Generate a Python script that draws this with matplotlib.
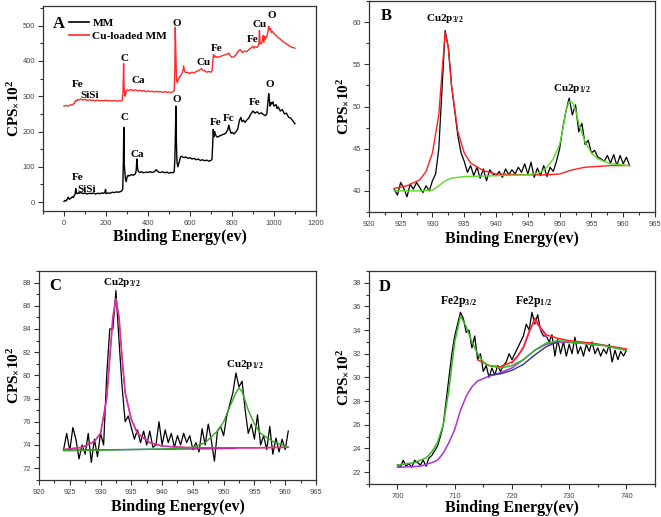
import numpy as np
import matplotlib
matplotlib.use("Agg")
import matplotlib.pyplot as plt
from matplotlib.ticker import MultipleLocator
from matplotlib.lines import Line2D

plt.rcParams['font.family'] = ['Liberation Sans', 'DejaVu Sans']
plt.rcParams['mathtext.fontset'] = 'custom'
plt.rcParams['mathtext.rm'] = 'Liberation Serif:bold'
plt.rcParams['mathtext.bf'] = 'Liberation Serif:bold'
plt.rcParams['mathtext.it'] = 'Liberation Serif:bold'

SERIF = 'Liberation Serif'

# ==========================================
# Panel A : survey spectra
# ==========================================
mm_energy = [0, 5, 10, 15, 20, 25, 30, 35, 40, 45, 50, 53, 56, 59, 63, 70, 75, 80, 90, 100,
             110, 120, 130, 140, 150, 160, 170, 180, 190, 195, 198, 201, 210, 220, 230, 240, 250, 260, 270, 276,
             280, 283, 285, 287, 290, 293, 297, 300, 305, 310, 320, 330, 340, 344, 347, 350, 353, 360, 370, 380,
             390, 400, 410, 420, 430, 440, 445, 450, 460, 470, 480, 490, 500, 510, 520, 525, 528, 531, 533, 535,
             538, 542, 548, 555, 560, 570, 580, 590, 600, 610, 620, 630, 640, 650, 660, 670, 680, 690, 700, 705,
             708, 711, 714, 718, 722, 730, 740, 750, 760, 770, 780, 785, 790, 795, 800, 810, 820, 828, 835, 842,
             848, 855, 862, 870, 880, 890, 900, 910, 920, 930, 940, 950, 960, 966, 970, 975, 978, 982, 986, 990,
             995, 1000, 1010, 1015, 1020, 1030, 1040, 1050, 1060, 1070, 1080, 1090, 1100]
mm_cps = [2, 5, 3, 8, 14, 8, 10, 12, 15, 13, 20, 22, 38, 26, 24, 27, 25, 28, 24, 26,
          23, 25, 24, 26, 23, 25, 24, 26, 25, 28, 36, 24, 26, 25, 28, 27, 29, 28, 30, 32,
          38, 120, 212, 110, 85, 65, 58, 70, 76, 74, 78, 76, 80, 90, 122, 100, 88, 84, 86, 83,
          85, 84, 86, 84, 86, 92, 88, 85, 84, 86, 83, 85, 82, 84, 83, 86, 120, 200, 272, 180,
          115, 100, 112, 128, 130, 126, 128, 124, 126, 122, 124, 120, 122, 118, 120, 117, 119, 116, 118, 122,
          160, 206, 185, 200, 190, 184, 187, 190, 192, 195, 205, 218, 205, 195, 198, 193, 200, 208, 230, 240,
          228, 232, 226, 232, 238, 250, 258, 252, 256, 250, 253, 248, 245, 250, 275, 307, 290, 272, 282, 278,
          284, 272, 276, 265, 270, 258, 262, 250, 252, 240, 238, 230, 222]

cu_energy = [0, 10, 20, 30, 40, 50, 55, 60, 65, 70, 80, 90, 100, 110, 120, 130, 140, 150, 160, 170,
             180, 190, 200, 210, 220, 230, 240, 250, 260, 270, 278, 281, 284, 286, 289, 292, 296, 300, 310, 320,
             330, 340, 350, 360, 370, 380, 390, 400, 410, 420, 430, 440, 450, 460, 470, 480, 490, 500, 510, 520,
             525, 528, 530, 533, 536, 540, 545, 552, 560, 566, 570, 574, 580, 590, 600, 610, 620, 630, 640, 650,
             655, 660, 670, 680, 690, 700, 705, 709, 712, 716, 720, 730, 740, 750, 760, 770, 780, 786, 790, 800,
             810, 820, 830, 840, 850, 860, 870, 880, 890, 900, 905, 910, 920, 928, 931, 934, 938, 942, 946, 949,
             952, 956, 960, 965, 970, 975, 979, 984, 988, 993, 1000, 1010, 1020, 1030, 1040, 1050, 1060, 1070, 1080, 1090,
             1100]
cu_cps = [272, 274, 272, 275, 276, 280, 288, 286, 291, 289, 292, 289, 291, 288, 290, 288, 289, 287, 289, 287,
          288, 287, 289, 286, 288, 286, 288, 286, 287, 286, 288, 310, 392, 330, 305, 300, 312, 318, 316, 319,
          316, 318, 315, 317, 314, 316, 313, 315, 313, 314, 312, 314, 312, 313, 311, 313, 311, 312, 310, 313,
          316, 380, 495, 420, 345, 338, 350, 355, 362, 370, 386, 372, 366, 368, 364, 368, 366, 370, 372, 376,
          378, 374, 372, 368, 370, 368, 372, 400, 418, 410, 414, 410, 412, 414, 416, 418, 420, 422, 416, 410,
          412, 418, 428, 432, 424, 428, 426, 432, 436, 442, 436, 440, 438, 446, 486, 450, 448, 452, 462, 472,
          452, 470, 462, 468, 478, 498, 488, 492, 480, 484, 478, 472, 466, 462, 456, 452, 448, 444, 440, 438,
          436]

a_labels_red = [("Fe", 67, 332), ("SiSi", 124, 301), ("C", 290, 406), ("Ca", 352, 344), ("O", 538, 506),
                ("Cu", 667, 395), ("Fe", 729, 435), ("Fe", 900, 460), ("Cu", 933, 503), ("O", 990, 528)]
a_labels_black = [("Fe", 67, 71), ("SiSi", 110, 37), ("C", 286, 241), ("Ca", 348, 134), ("O", 538, 292),
                  ("Fe", 724, 225), ("Fc", 786, 236), ("Fe", 910, 281), ("O", 981, 332)]

# ==========================================
# Panel B : Cu 2p of Cu-loaded MM
# ==========================================
b_cps = [40.2, 39.5, 41.0, 40.3, 39.3, 40.8, 40.2, 41.0, 40.4, 39.8, 40.6, 40.0, 41.2, 42.0, 45.0,
         52.0, 59.0, 57.0, 52.5, 49.5, 46.5, 44.5, 43.5, 42.2, 43.0, 41.8, 42.8, 41.5, 42.6, 41.2,
         42.5, 42.0, 41.8, 42.3, 41.6, 42.6, 41.9, 42.5, 42.0, 42.8, 42.2, 43.2, 42.0, 43.4, 41.6,
         42.7, 41.8, 43.0, 41.7, 42.8, 42.3, 43.5, 45.0, 47.5, 49.5, 51.0, 49.0, 50.2, 47.0, 48.0,
         45.5, 46.0, 44.5, 44.8, 44.0, 43.8, 43.5, 44.2, 43.3, 44.3, 43.0, 44.2, 43.2, 44.0, 43.0]
b_red_e = [924, 926, 928, 929, 930, 931, 931.5, 932, 932.5, 933, 934, 935, 936, 938, 940, 945, 948,
           950, 952, 954, 956, 958, 961]
b_red = [40.3, 40.6, 41.3, 42.3, 44.5, 49.0, 54.0, 58.8, 57.0, 52.5, 47.0, 44.5, 43.3, 42.4, 42.0,
         41.9, 41.9, 42.0, 42.5, 42.8, 42.9, 43.0, 43.0]
b_green_e = [924, 928, 930, 931, 932, 933, 935, 940, 945, 947, 948, 949, 950, 950.5, 951, 951.5, 952,
             952.5, 953, 954, 955, 956, 958, 961]
b_green = [40.0, 40.0, 40.1, 40.6, 41.2, 41.5, 41.7, 41.8, 41.9, 42.2, 42.8, 43.8, 45.5, 47.3, 49.5,
           50.6, 50.5, 49.6, 48.0, 45.8, 44.5, 43.8, 43.2, 43.0]

# ==========================================
# Panel C : Cu 2p (second sample)
# ==========================================
c_cps = [73.6, 75.0, 73.5, 75.5, 74.5, 72.8, 74.0, 73.2, 75.0, 72.5, 74.5, 73.0, 75.0, 74.0, 80.0,
         84.0, 84.0, 87.3, 83.0, 79.0, 76.0, 76.5, 75.5, 74.5, 75.3, 74.2, 75.2, 74.0, 75.2, 73.8,
         74.0, 76.0, 74.0, 75.3, 74.2, 75.0, 73.8, 74.8, 74.0, 75.0, 74.2, 74.8, 73.6, 74.2, 73.4,
         75.4, 74.0, 75.8, 74.4, 72.6, 75.2, 75.6, 74.8, 76.5, 77.5, 78.5, 80.2, 79.0, 79.5, 77.0,
         75.0, 75.8, 74.5, 76.6, 74.0, 74.8, 73.6, 75.6, 73.2, 74.6, 73.4, 74.5, 73.6, 75.2]
c_mag_e = [924, 927, 929, 930, 931, 931.5, 932, 932.5, 933, 933.5, 934, 935, 936, 938, 940, 945,
           950, 955, 960.5]
c_mag = [73.6, 73.8, 74.3, 75.0, 78.0, 81.5, 85.0, 86.6, 85.0, 81.5, 78.5, 76.2, 75.0, 74.2, 73.9,
         73.75, 73.75, 73.75, 73.8]
c_green_e = [924, 940, 945, 947, 949, 950, 951, 952, 952.5, 953, 954, 955, 956, 958, 960.5]
c_green = [73.5, 73.65, 73.8, 74.2, 75.2, 76.0, 77.3, 78.5, 78.9, 78.6, 77.0, 75.8, 75.0, 74.3, 73.8]
c_base_e = [924, 952]
c_base = [73.55, 73.7]

# ==========================================
# Panel D : Fe 2p
# ==========================================
d_cps = [22.6, 22.4, 23.0, 22.5, 22.7, 22.4, 23.0, 22.8, 22.6, 23.0, 22.5, 23.2, 23.4, 23.8, 24.2,
         25.0, 26.0, 28.0, 30.0, 32.0, 33.5, 34.5, 35.5, 35.0, 33.8, 34.0, 32.5, 33.5, 31.5, 32.0,
         30.5, 31.0, 30.0, 30.8, 30.2, 31.0, 30.5, 31.0, 31.3, 32.0, 31.5, 32.0, 32.5, 33.0, 33.5,
         34.5, 34.0, 35.5, 34.5, 35.3, 34.0, 33.5, 33.5, 33.0, 33.6, 31.8, 33.2, 32.0, 33.0, 31.8,
         32.8, 32.0, 33.4, 32.0, 32.6, 31.8, 32.8, 32.2, 33.0, 32.0, 32.5, 31.8, 32.4, 32.0, 32.8,
         31.3, 32.3, 31.5, 32.2, 31.8, 32.3]
d_green_e = [700, 703, 705, 706, 707, 708, 709, 710, 711, 712, 713, 714, 715, 716, 718, 720, 722,
             724, 726, 728, 732, 736, 740]
d_green = [22.6, 22.8, 23.2, 23.7, 24.5, 26.0, 29.0, 33.0, 35.2, 34.3, 33.0, 32.0, 31.3, 31.0, 30.8,
           31.0, 31.5, 32.3, 32.9, 33.1, 32.9, 32.7, 32.3]
d_red_e = [714, 716, 718, 720, 721, 722, 723, 724, 725, 726, 728, 730, 734, 740]
d_red = [31.5, 31.0, 30.9, 31.3, 31.8, 32.5, 33.8, 35.0, 34.2, 33.6, 33.3, 33.1, 32.9, 32.4]
d_violet_e = [700, 704, 706, 707, 708, 709, 710, 711, 712, 713, 714, 716, 718, 720, 722, 724, 726,
              728, 732, 736, 740]
d_violet = [22.4, 22.5, 22.8, 23.0, 23.6, 24.5, 25.6, 27.2, 28.4, 29.2, 29.7, 30.1, 30.4, 30.8, 31.5,
            32.3, 32.8, 33.0, 32.9, 32.7, 32.3]
d_blue_e = [716, 718, 720, 722, 724, 726, 728]
d_blue = [30.2, 30.3, 30.6, 31.1, 31.9, 32.6, 33.0]
d_pink_e = [720, 721, 722, 723, 724, 725, 726]
d_pink = [31.2, 31.8, 32.6, 33.9, 34.8, 34.1, 33.5]


def style_axes(ax, xlim, ylim, xmin, ymin, xticks, yticks, xlab_y, ylab_x):
    ax.set_xlim(*xlim)
    ax.set_ylim(*ylim)
    ax.set_xticks(xticks)
    ax.set_yticks(yticks)
    ax.xaxis.set_minor_locator(MultipleLocator(xmin))
    ax.yaxis.set_minor_locator(MultipleLocator(ymin))
    ax.tick_params(which='both', direction='out', colors='#333333', labelsize=5.4, width=0.8)
    ax.tick_params(axis='x', pad=3)
    ax.tick_params(axis='y', pad=2)
    ax.tick_params(which='major', length=3.5)
    ax.tick_params(which='minor', length=2)
    for tl in ax.get_xticklabels() + ax.get_yticklabels():
        tl.set_color('#444444')
    for sp in ax.spines.values():
        sp.set_color('#333333')
        sp.set_linewidth(0.9)
    ax.set_xlabel('Binding Energy(ev)', family=SERIF, fontweight='bold', fontsize=11.5)
    ax.set_ylabel(r'CPS$_{\times}$10$^{2}$', family=SERIF, fontweight='bold', fontsize=11)
    ax.xaxis.set_label_coords(0.5, xlab_y)
    ax.yaxis.set_label_coords(ylab_x, 0.5)


fig = plt.figure(figsize=(6.61, 5.17), dpi=100)
axA = fig.add_axes([0.065, 0.592, 0.413, 0.396])
axB = fig.add_axes([0.558, 0.590, 0.433, 0.408])
axC = fig.add_axes([0.059, 0.072, 0.419, 0.404])
axD = fig.add_axes([0.558, 0.064, 0.433, 0.412])

# --- A ---
axA.plot(mm_energy, mm_cps, color='black', lw=1.0)
axA.plot(cu_energy, cu_cps, color='#ff2a2a', lw=1.0)
for txt, x, y in a_labels_red + a_labels_black:
    axA.text(x, y, txt, family=SERIF, fontweight='bold', fontsize=8, ha='center', va='center')
axA.text(-25, 505, 'A', family=SERIF, fontweight='bold', fontsize=12, ha='center', va='center')
handles = [Line2D([], [], color='black', lw=1.2), Line2D([], [], color='#ff2a2a', lw=1.2)]
axA.legend(handles, ['MM', 'Cu-loaded MM'], loc='upper left', bbox_to_anchor=(0.058, 0.99),
           frameon=False, handlelength=1.75, handletextpad=0.3, labelspacing=0.25,
           prop={'family': SERIF, 'weight': 'bold', 'size': 8.2})
style_axes(axA, (-100, 1200), (-25, 555), 100, 50,
           np.arange(0, 1201, 200), np.arange(0, 501, 100), -0.09, -0.078)

# --- B ---
b_energy = np.linspace(924, 961, len(b_cps))
axB.plot(b_energy, b_cps, color='black', lw=0.9)
axB.plot(b_red_e, b_red, color='#ff2020', lw=1.0)
axB.plot(b_green_e, b_green, color='#55dd22', lw=1.0)
axB.text(922.7, 60.7, 'B', family=SERIF, fontweight='bold', fontsize=12, ha='center', va='center')
axB.text(932.0, 60.4, r'Cu2p$_{3/2}$', family=SERIF, fontweight='bold', fontsize=8, ha='center', va='center')
axB.text(951.9, 52.1, r'Cu2p$_{1/2}$', family=SERIF, fontweight='bold', fontsize=8, ha='center', va='center')
style_axes(axB, (920, 965), (37.5, 62.5), 2.5, 2.5,
           np.arange(920, 966, 5), np.arange(40, 61, 5), -0.092, -0.06)

# --- C ---
c_energy = np.linspace(924, 960.5, len(c_cps))
axC.plot(c_energy, c_cps, color='black', lw=0.9)
axC.plot(c_base_e, c_base, color='#3344aa', lw=1.0)
axC.plot(c_mag_e, c_mag, color='#ee2266', lw=1.2)
axC.plot(c_mag_e, c_mag, color='#cc33cc', lw=0.7)
axC.plot(c_green_e, c_green, color='#33aa22', lw=1.0)
axC.text(922.6, 87.7, 'C', family=SERIF, fontweight='bold', fontsize=12, ha='center', va='center')
axC.text(933.5, 88.0, r'Cu2p$_{3/2}$', family=SERIF, fontweight='bold', fontsize=8, ha='center', va='center')
axC.text(953.4, 80.9, r'Cu2p$_{1/2}$', family=SERIF, fontweight='bold', fontsize=8, ha='center', va='center')
style_axes(axC, (920, 965), (71, 89), 2.5, 1,
           np.arange(920, 966, 5), np.arange(72, 89, 2), -0.093, -0.066)

# --- D ---
d_energy = np.linspace(700, 740, len(d_cps))
axD.plot(d_energy, d_cps, color='black', lw=0.9)
axD.plot(d_violet_e, d_violet, color='#aa33dd', lw=1.1)
axD.plot(d_blue_e, d_blue, color='#333388', lw=1.0)
axD.plot(d_pink_e, d_pink, color='#ee44cc', lw=1.0)
axD.plot(d_red_e, d_red, color='#ff2020', lw=1.1)
axD.plot(d_green_e, d_green, color='#33bb22', lw=1.1)
axD.text(697.8, 37.6, 'D', family=SERIF, fontweight='bold', fontsize=12, ha='center', va='center')
axD.text(710.6, 36.4, r'Fe2p$_{3/2}$', family=SERIF, fontweight='bold', fontsize=8.5, ha='center', va='center')
axD.text(723.7, 36.4, r'Fe2p$_{1/2}$', family=SERIF, fontweight='bold', fontsize=8.5, ha='center', va='center')
style_axes(axD, (695, 745), (21, 39), 5, 1,
           np.arange(700, 741, 10), np.arange(22, 39, 2), -0.076, -0.06)

fig.savefig('out.png', dpi=100)
